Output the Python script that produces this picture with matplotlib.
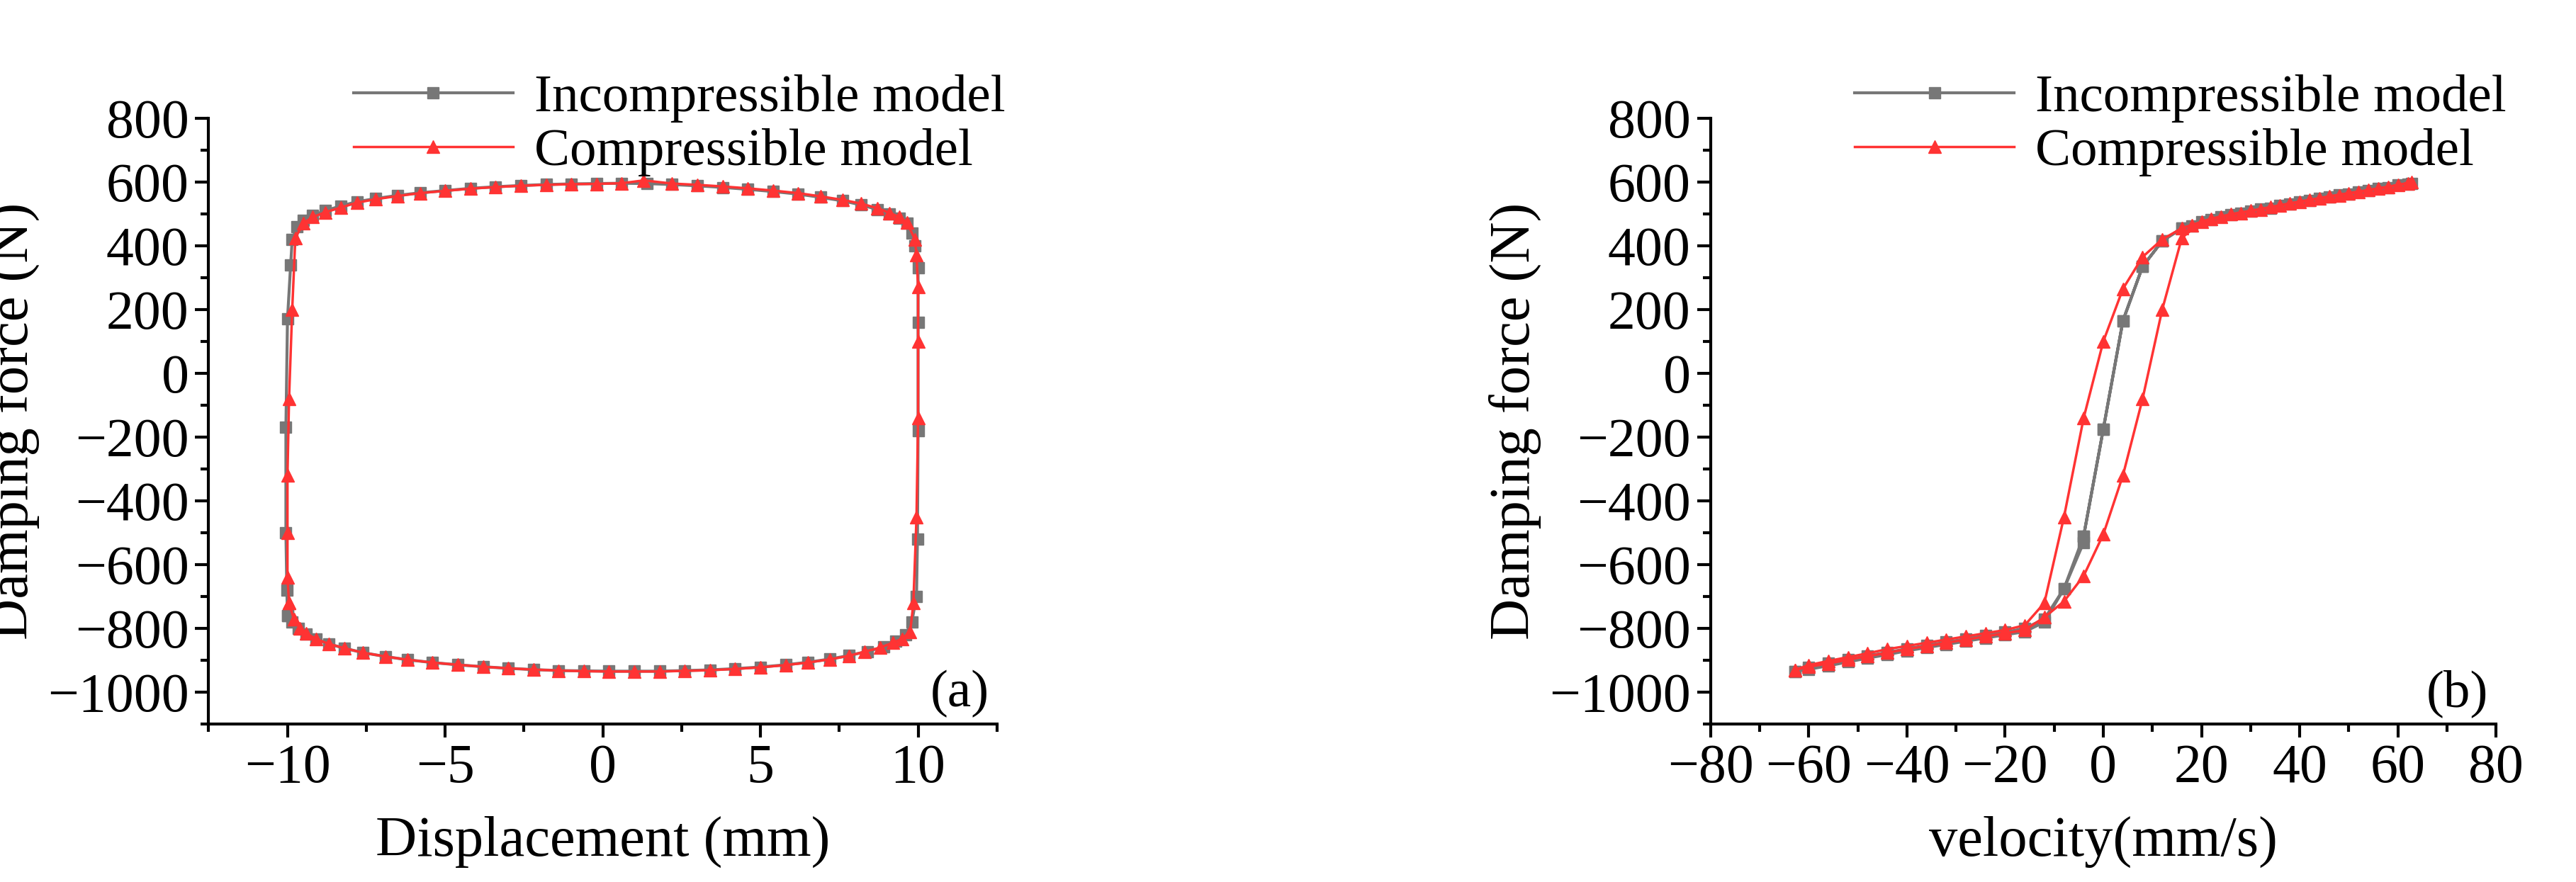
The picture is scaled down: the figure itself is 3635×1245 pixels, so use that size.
import matplotlib.pyplot as plt
from matplotlib.ticker import MultipleLocator

plt.rcParams['font.family'] = ['Liberation Serif', 'DejaVu Serif']

# (a) displacement loop, incompressible model
disp_inc = [-10, -10.02, -10.05, -10.05, -10, -9.9, -9.85, -9.7, -9.5, -9.2, -8.8, -8.3, -7.8, -7.2,
            -6.5, -5.8, -5.0, -4.2, -3.4, -2.6, -1.8, -1.0, -0.2, 0.6, 1.4, 2.2, 3.0, 3.8, 4.6, 5.4,
            6.2, 6.9, 7.6, 8.2, 8.7, 9.1, 9.4, 9.65, 9.8, 9.9, 10, 10, 10, 9.98, 9.95, 9.8, 9.6, 9.3,
            8.9, 8.4, 7.8, 7.2, 6.5, 5.8, 5.0, 4.2, 3.4, 2.6, 1.8, 1.0, 0.2, -0.6, -1.4, -2.2, -3.0,
            -3.8, -4.6, -5.4, -6.2, -6.9, -7.6, -8.2, -8.7, -9.1, -9.4, -9.65, -9.85, -10]
force_inc = [-760, -680, -500, -170, 170, 340, 420, 460, 480, 495, 510, 525, 538, 548,
             558, 566, 573, 580, 585, 589, 592, 594, 595, 596, 595, 592, 588, 583, 577, 570,
             562, 552, 541, 528, 514, 500, 487, 470, 440, 400, 330, 160, -180, -520, -700, -780, -820, -840,
             -858, -872, -885, -896, -906, -914, -921, -926, -930, -932, -934, -934, -934, -933, -932, -929, -925,
             -920, -914, -907, -898, -888, -876, -862, -848, -833, -818, -800, -780, -760]

# (a) displacement loop, compressible model
disp_com = [-9.95, -10, -10, -10, -9.95, -9.85, -9.75, -9.5, -9.2, -8.8, -8.3, -7.8, -7.2,
            -6.5, -5.8, -5.0, -4.2, -3.4, -2.6, -1.8, -1.0, -0.2, 0.6, 1.3, 2.2, 3.0, 3.8, 4.6, 5.4,
            6.2, 6.9, 7.6, 8.2, 8.7, 9.1, 9.4, 9.65, 9.9, 9.95, 10, 10, 10, 9.95, 9.85, 9.75, 9.5, 9.2,
            8.8, 8.3, 7.8, 7.2, 6.5, 5.8, 5.0, 4.2, 3.4, 2.6, 1.8, 1.0, 0.2, -0.6, -1.4, -2.2, -3.0,
            -3.8, -4.6, -5.4, -6.2, -6.9, -7.6, -8.2, -8.7, -9.1, -9.4, -9.6, -9.8, -9.95]
force_com = [-720, -640, -500, -320, -80, 200, 425, 470, 490, 505, 520, 535, 546,
             556, 565, 572, 579, 584, 588, 591, 593, 594, 596, 605, 595, 591, 586, 580, 573,
             565, 555, 544, 532, 518, 503, 490, 472, 420, 370, 270, 100, -140, -450, -720, -810, -832, -845,
             -860, -873, -886, -897, -907, -915, -922, -927, -931, -933, -935, -935, -935, -934, -932, -929, -925,
             -920, -914, -907, -898, -888, -876, -862, -848, -833, -815, -800, -770, -720]

# (b) velocity curves
vel_inc = [-62.8, -60, -56, -52, -48, -44, -40, -36, -32, -28, -24, -20, -16, -12, -8, -4, -4, 0, 4, 8,
           12, 16, 20, 24, 28, 32, 36, 40, 44, 48, 52, 56, 60, 62.8, 62, 58, 54, 50, 46, 42, 38, 34,
           30, 26, 22, 18, 16, 12, 8, 4, 0, -4, -8, -12, -16, -20, -24, -28, -32, -36, -40, -44, -48,
           -52, -56, -60, -62.8]
fvel_inc = [-935, -928, -917, -905, -893, -882, -870, -860, -850, -840, -830, -820, -810, -780, -675, -530, -510, -175, 165, 335,
            415, 455, 475, 490, 503, 515, 527, 538, 549, 559, 569, 580, 590, 595, 592, 582, 572, 562, 552, 541, 530, 518,
            508, 497, 483, 462, 455, 415, 335, 165, -175, -510, -675, -770, -800, -812, -822, -833, -843, -853, -864, -875, -886,
            -897, -909, -922, -935]
vel_com = [-62.8, -60, -56, -52, -48, -44, -40, -36, -32, -28, -24, -20, -16, -12, -8, -4, 0, 4, 8,
           12, 16, 20, 24, 28, 32, 36, 40, 44, 48, 52, 56, 60, 62.8, 62, 58, 54, 50, 46, 42, 38, 34,
           30, 26, 22, 18, 16, 12, 8, 4, 0, -4, -8, -12, -16, -20, -24, -28, -32, -36, -40, -44, -48,
           -52, -56, -60, -62.8]
fvel_com = [-930, -920, -910, -898, -887, -876, -865, -855, -845, -835, -825, -815, -805, -765, -715, -635, -505, -320, -80,
            200, 425, 475, 490, 502, 514, 526, 537, 548, 558, 568, 579, 590, 600, 596, 585, 575, 565, 555, 544, 533, 521,
            510, 499, 485, 465, 455, 420, 365, 265, 100, -140, -450, -720, -790, -805, -815, -825, -835, -845, -855, -865, -878,
            -890, -902, -915, -930]

GRAY = '#777777'
RED = '#ff3333'

fig = plt.figure(figsize=(36.35, 12.45), dpi=100)
ax1 = fig.add_axes([0.081, 0.179, 0.306, 0.687])
ax2 = fig.add_axes([0.664, 0.179, 0.305, 0.687])

panels = [
    (ax1, disp_inc, force_inc, disp_com, force_com, 'Displacement (mm)', (-12.5, 12.5), 5, 2.5, '(a)'),
    (ax2, vel_inc, fvel_inc, vel_com, fvel_com, 'velocity(mm/s)', (-80, 80), 20, 10, '(b)'),
]
for ax, xi, yi, xc, yc, xlabel, xlim, major, minor, tag in panels:
    ax.plot(xi, yi, color=GRAY, marker='s', markersize=11, lw=3, label='Incompressible model')
    ax.plot(xc, yc, color=RED, marker='^', markersize=13, lw=2.5, label='Compressible model')
    ax.set_xlim(*xlim)
    ax.set_ylim(-1100, 800)
    ax.xaxis.set_major_locator(MultipleLocator(major))
    ax.xaxis.set_minor_locator(MultipleLocator(minor))
    ax.yaxis.set_major_locator(MultipleLocator(200))
    ax.yaxis.set_minor_locator(MultipleLocator(100))
    ax.tick_params(which='major', length=14, width=3, labelsize=56, direction='out', pad=6)
    ax.tick_params(which='minor', length=8, width=3, direction='out')
    for s in ('top', 'right'):
        ax.spines[s].set_visible(False)
    for s in ('left', 'bottom'):
        ax.spines[s].set_linewidth(3)
    ax.set_xlabel(xlabel, fontsize=58, labelpad=22)
    ax.set_ylabel('Damping force (N)', fontsize=58, labelpad=8)
    ax.text(0.99, 0.01, tag, transform=ax.transAxes, ha='right', va='bottom', fontsize=54)
    ax.legend(loc='lower left', bbox_to_anchor=(0.15, 0.86), frameon=False, fontsize=54,
              handlelength=3.0, handletextpad=0.4, labelspacing=0.1, borderpad=0)

fig.savefig('out.png', dpi=100)
